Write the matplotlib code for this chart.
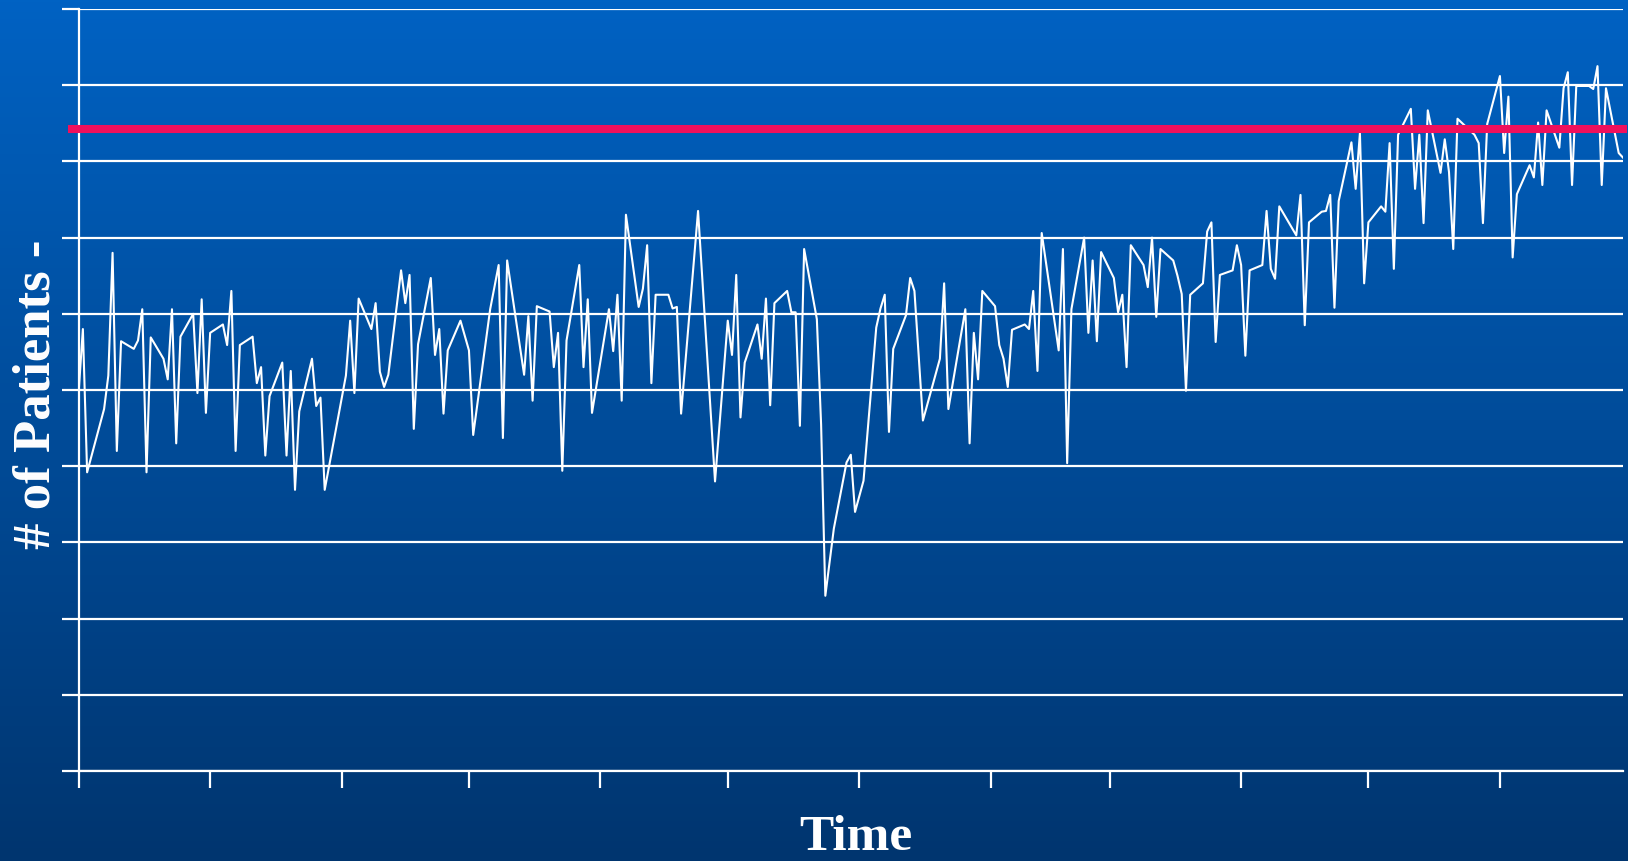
import numpy as np
import pandas as pd
import matplotlib.pyplot as plt
import matplotlib.dates as mdates
from matplotlib.colors import LinearSegmentedColormap

# daily patient counts, one row per business week (Mon..Fri), None = no data that day
weekly_counts = [
    [None, 4.97, 5.80, 3.92, None],
    [4.75, 5.19, 6.80, 4.20, 5.64],
    [5.54, 5.65, 6.06, 3.92, 5.69],
    [5.41, 5.14, 6.06, 4.30, 5.70],
    [6.00, 4.96, 6.19, 4.70, 5.75],
    [5.86, 5.59, 6.30, 4.20, 5.59],
    [5.70, 5.09, 5.30, 4.14, 4.92],
    [5.36, 4.14, 5.25, 3.69, 4.72],
    [5.41, 4.79, 4.90, 3.69, None],
    [None, 5.19, 5.91, 4.96, 6.20],
    [5.80, 6.14, 5.24, 5.04, 5.20],
    [6.57, 6.14, 6.51, 4.49, 5.60],
    [6.47, 5.46, 5.80, 4.69, 5.52],
    [5.91, None, 5.52, 4.41, None],
    [6.06, None, 6.64, 4.37, 6.70],
    [None, 5.20, 5.97, 4.86, 6.10],
    [6.03, 5.30, 5.75, 3.94, 5.65],
    [6.64, 5.30, 6.19, 4.70, None],
    [6.06, 5.51, 6.25, 4.86, 7.30],
    [6.09, 6.33, 6.90, 5.09, 6.25],
    [6.25, 6.07, 6.09, 4.69, None],
    [7.35, None, None, None, 3.80],
    [5.91, 5.46, 6.51, 4.64, 5.36],
    [5.86, 5.41, 6.20, 4.80, 6.14],
    [6.30, 6.02, 6.02, 4.53, 6.85],
    [5.93, 4.55, 2.30, None, 3.18],
    [4.05, 4.15, 3.40, None, 3.81],
    [5.82, 6.07, 6.25, 4.45, 5.54],
    [5.98, 6.47, 6.30, None, 4.60],
    [None, 5.41, 6.40, 4.75, None],
    [6.06, 4.30, 5.75, 5.14, 6.30],
    [6.10, 5.59, 5.41, 5.04, 5.79],
    [5.86, 5.80, 6.30, 5.25, 7.06],
    [None, 5.52, 6.85, 4.04, 6.06],
    [7.00, 5.75, 6.70, 5.64, 6.81],
    [6.47, 6.02, 6.25, 5.30, 6.90],
    [6.64, 6.35, 7.00, 5.96, 6.85],
    [6.70, 6.50, 6.26, 4.99, 6.25],
    [6.40, 7.08, 7.20, 5.63, 6.51],
    [6.57, 6.90, 6.64, 5.45, 6.57],
    [6.64, 7.35, 6.59, 6.46, 7.41],
    [None, 7.03, 7.56, 5.85, 7.20],
    [7.34, 7.35, 7.56, 6.08, 7.48],
    [8.25, 7.64, 8.37, 6.40, 7.20],
    [7.41, 7.34, 8.24, 6.59, 8.35],
    [8.69, 7.64, 8.35, 7.19, 8.67],
    [7.85, 8.29, 7.86, 6.85, 8.56],
    [None, 8.35, 8.24, 7.19, 8.49],
    [9.12, 8.11, 8.85, 6.74, 7.57],
    [7.95, 7.79, 8.51, 7.69, 8.67],
    [8.18, 8.96, 9.17, 7.69, 8.99],
    [8.99, 8.95, 9.25, 7.69, 8.96],
    [8.11, 8.05],
]
capacity = 8.43

patients = [v for week in weekly_counts for v in week]
dates = pd.bdate_range('2008-06-30', periods=len(patients))
series = pd.Series(patients, index=dates, dtype=float).dropna()

fig = plt.figure(figsize=(16.28, 8.62), dpi=100)

# blue gradient backdrop over the whole figure
bg = fig.add_axes([0, 0, 1, 1])
cmap = LinearSegmentedColormap.from_list('slide', ['#0062c3', '#00356f'])
bg.imshow(np.linspace(0, 1, 256).reshape(-1, 1), cmap=cmap, aspect='auto',
          extent=[0, 1, 0, 1])
bg.axis('off')
bg.set_zorder(0)

ax = fig.add_axes([0.0483, 0.1044, 0.9486, 0.8840])
ax.set_zorder(1)
ax.patch.set_alpha(0)

ax.plot(series.index, series.values, color='white', lw=1.5, zorder=3)
ax.axhline(capacity, xmin=-0.0045, xmax=1, color='#f0105c', lw=5.8,
           clip_on=False, zorder=4)

ax.set_xlim(pd.Timestamp('2008-07-01'), pd.Timestamp('2009-06-30'))
ax.set_ylim(0, 10)
ax.set_yticks(range(0, 11))
ax.xaxis.set_major_locator(mdates.MonthLocator())
ax.yaxis.grid(True, color='white', lw=1.6, zorder=1)
ax.tick_params(axis='both', direction='out', length=12, width=1.6,
               color='white', labelleft=False, labelbottom=False)
for side in ['top', 'right']:
    ax.spines[side].set_visible(False)
for side in ['left', 'bottom']:
    ax.spines[side].set_color('white')
    ax.spines[side].set_linewidth(1.6)

fig.text(0.0222, 0.543, '# of Patients -', rotation=90, ha='center', va='center',
         fontsize=38, fontweight='bold', family='Liberation Serif', color='white')
fig.text(0.5256, 0.001, 'Time', ha='center', va='bottom',
         fontsize=37, fontweight='bold', family='Liberation Serif', color='white')

fig.savefig('out.png', dpi=100)
